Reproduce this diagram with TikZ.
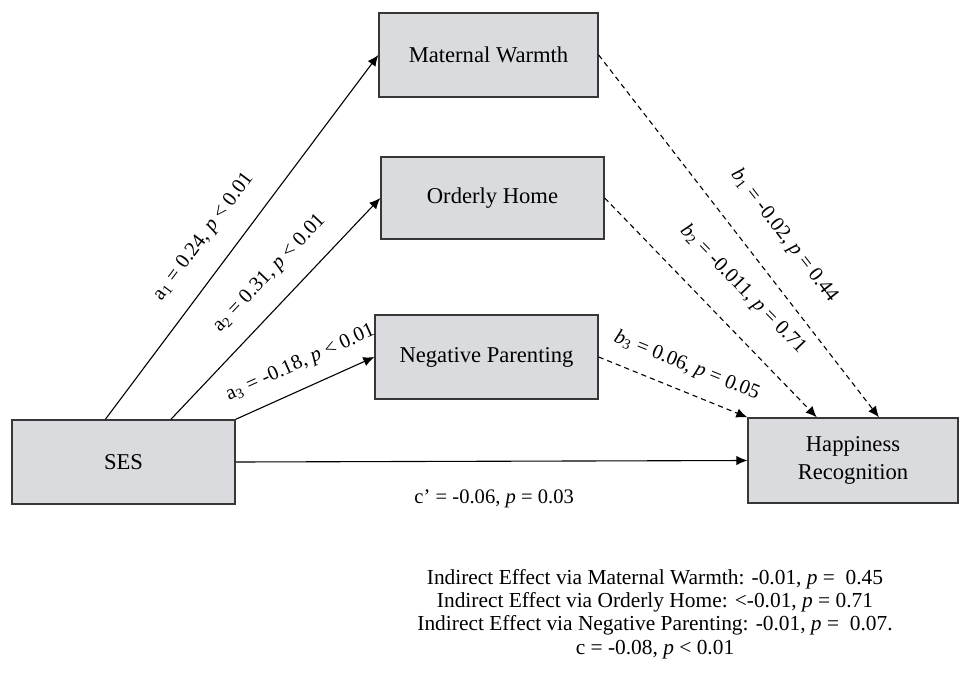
\documentclass[tikz,border=0pt]{standalone}
\usepackage{fontspec}
\setmainfont{Liberation Serif}
\usetikzlibrary{arrows.meta}
\definecolor{boxfill}{RGB}{218,219,222}
\definecolor{boxline}{RGB}{55,55,55}
\tikzset{
  box/.style={rectangle, draw=boxline, fill=boxfill, line width=0.7pt, align=center, inner sep=2pt, font=\fontsize{11.3}{14}\selectfont},
  line/.style={-{Latex[length=5.5pt,width=4.8pt]}, line width=0.55pt},
  dline/.style={line, dash pattern=on 2.6pt off 2pt},
  coef/.style={sloped, inner sep=0pt, font=\fontsize{10.3}{12}\selectfont},
  note/.style={align=center, inner sep=0pt, font=\fontsize{10.7}{11.7}\selectfont}
}

\begin{document}
\begin{tikzpicture}[x=0.5pt, y=-0.5pt]
    \useasboundingbox (0,0) rectangle (959,675);
    \node[box, minimum width=109.5pt, minimum height=42pt] (mw) at (488.5,55) {Maternal Warmth};
    \node[box, minimum width=111.5pt, minimum height=41pt] (oh) at (492.5,198) {Orderly Home};
    \node[box, minimum width=111.5pt, minimum height=42pt] (np) at (486.5,357) {Negative Parenting};
    \node[box, minimum width=111.5pt, minimum height=42pt] (ses) at (123.5,462) {SES};
    \node[box, minimum width=105pt, minimum height=42.5pt] (hr) at (853,460.5) {Happiness\\Recognition};
    % a paths
    \draw[line] (ses.113.8) -- node[coef, pos=0.45, above=10.5pt] {a\textsubscript{1} = 0.24, \textit{p} < 0.01} (mw.west);
    \draw[line] (ses.42.1) -- node[coef, pos=0.57, above=9.5pt] {a\textsubscript{2} = 0.31, \textit{p} < 0.01} (oh.west);
    \draw[line] (ses.north east) -- node[coef, pos=0.54, above=7.5pt] {a\textsubscript{3} = -0.18, \textit{p} < 0.01} (np.west);
    % b paths
    \draw[dline] (mw.east) -- node[coef, pos=0.56, above=13pt] {\textit{b}\textsubscript{1} = -0.02, \textit{p} = 0.44} (hr.59.5);
    \draw[dline] (oh.east) -- node[coef, pos=0.53, above=13pt] {\textit{b}\textsubscript{2} = -0.011, \textit{p} = 0.71} (hr.130.3);
    \draw[dline] (np.east) -- node[coef, pos=0.53, above=7.5pt] {\textit{b}\textsubscript{3} = 0.06, \textit{p} = 0.05} (hr.north west);
    % direct path
    \draw[line] (ses.east) -- node[coef, pos=0.505, below=14pt] {c’ = -0.06, \textit{p} = 0.03} (hr.west);
    \node[note] (eff) at (655,614) {Indirect Effect via Maternal Warmth: -0.01, \textit{p} = \ 0.45\\
      Indirect Effect via Orderly Home: <-0.01, \textit{p} = 0.71\\
      Indirect Effect via Negative Parenting: -0.01, \textit{p} = \ 0.07.\\
      c = -0.08, \textit{p} < 0.01};
\end{tikzpicture}
\end{document}
